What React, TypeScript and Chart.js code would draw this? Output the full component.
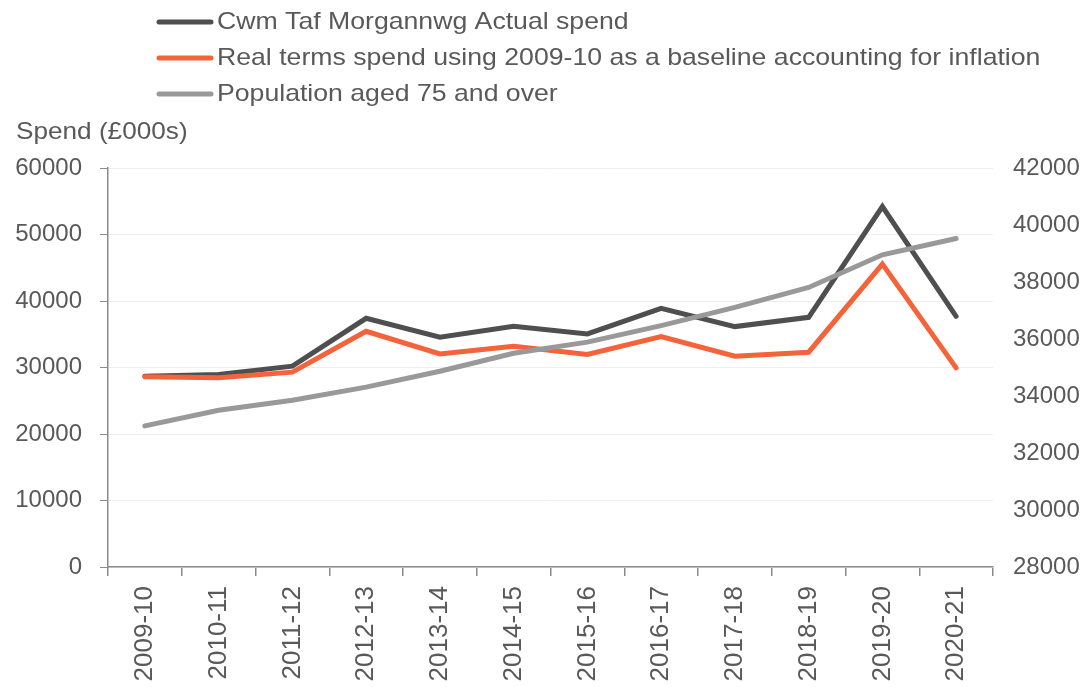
import React, { useEffect, useRef } from "react";
import { Chart, registerables } from "chart.js";

Chart.register(...registerables);

const categories = [
  "2009-10", "2010-11", "2011-12", "2012-13", "2013-14", "2014-15",
  "2015-16", "2016-17", "2017-18", "2018-19", "2019-20", "2020-21",
];
const actualSpend = [28700, 28950, 30200, 37400, 34550, 36200, 35050, 38900, 36150, 37550, 54200, 37700];
const realTermsSpend = [28600, 28450, 29300, 35450, 32050, 33200, 31950, 34650, 31700, 32300, 45550, 29950];
const population75 = [32950, 33500, 33850, 34310, 34870, 35500, 35890, 36470, 37110, 37810, 38955, 39525];

const seriesNames = [
  "Cwm Taf Morgannwg Actual spend",
  "Real terms spend using 2009-10 as a baseline accounting for inflation",
  "Population aged 75 and over",
];
const seriesColors = ["#4f4f4f", "#f4633a", "#999999"];
const leftAxisTitle = "Spend (£000s)";

const FONT = "'Liberation Sans', Arial, Helvetica, sans-serif";
const TEXT = "#595959";
const AXIS = "#8a8a8a";

const overlayPlugin = {
  id: "overlay",
  afterDraw(chart: any) {
    const ctx = chart.ctx;
    ctx.save();
    ctx.font = `24px ${FONT}`;
    ctx.fillStyle = TEXT;
    ctx.textBaseline = "middle";
    ctx.textAlign = "left";
    const rows = [22, 58, 94];
    seriesNames.forEach((name, i) => {
      const y = rows[i];
      ctx.strokeStyle = seriesColors[i];
      ctx.lineWidth = 5;
      ctx.lineCap = "round";
      ctx.beginPath();
      ctx.moveTo(159, y);
      ctx.lineTo(211, y);
      ctx.stroke();
      ctx.save();
      ctx.translate(217, y);
      ctx.scale(1.11, 1);
      ctx.fillText(name, 0, 0);
      ctx.restore();
    });
    ctx.save();
    ctx.translate(16, 132);
    ctx.scale(1.09, 1);
    ctx.fillText(leftAxisTitle, 0, 0);
    ctx.restore();
    ctx.restore();
  },
};

const plain = (v: any) => String(v);

export default function App() {
  const ref = useRef<HTMLCanvasElement>(null);
  useEffect(() => {
    document.body.style.margin = "0";
    const canvas = ref.current!;
    const chart = new Chart(canvas, {
      type: "line",
      data: {
        labels: categories,
        datasets: [
          {
            label: seriesNames[0],
            data: actualSpend,
            borderColor: seriesColors[0],
            backgroundColor: seriesColors[0],
            borderWidth: 5,
            pointRadius: 0,
            tension: 0,
            borderCapStyle: "round",
            borderJoinStyle: "miter",
            yAxisID: "y",
            order: 3,
          },
          {
            label: seriesNames[1],
            data: realTermsSpend,
            borderColor: seriesColors[1],
            backgroundColor: seriesColors[1],
            borderWidth: 5,
            pointRadius: 0,
            tension: 0,
            borderCapStyle: "round",
            borderJoinStyle: "miter",
            yAxisID: "y",
            order: 2,
          },
          {
            label: seriesNames[2],
            data: population75,
            borderColor: seriesColors[2],
            backgroundColor: seriesColors[2],
            borderWidth: 5,
            pointRadius: 0,
            tension: 0,
            borderCapStyle: "round",
            borderJoinStyle: "miter",
            yAxisID: "y1",
            order: 1,
          },
        ],
      },
      options: {
        animation: false,
        responsive: false,
        maintainAspectRatio: false,
        layout: { padding: { top: 168, left: 0, right: 0, bottom: 0 } },
        plugins: {
          legend: { display: false },
          tooltip: { enabled: false },
          title: { display: false },
        },
        scales: {
          x: {
            offset: true,
            grid: {
              offset: true,
              drawOnChartArea: false,
              tickLength: 9,
              tickColor: AXIS,
              lineWidth: 1.5,
            },
            border: { display: true, color: AXIS, width: 1.5 },
            ticks: {
              minRotation: 90,
              maxRotation: 90,
              autoSkip: false,
              padding: 10,
              color: TEXT,
              font: { family: FONT, size: 26 },
            },
            afterFit(scale: any) {
              scale.height = 120;
            },
          },
          y: {
            position: "left",
            min: 0,
            max: 60000,
            ticks: {
              stepSize: 10000,
              padding: 18,
              color: TEXT,
              font: { family: FONT, size: 24 },
              callback: plain,
            },
            grid: {
              color: "#eeeeee",
              lineWidth: 1,
              tickLength: 8,
              tickColor: AXIS,
            },
            border: { display: true, color: AXIS, width: 1.5 },
            afterFit(scale: any) {
              scale.width = 108;
            },
          },
          y1: {
            position: "right",
            min: 28000,
            max: 42000,
            ticks: {
              stepSize: 2000,
              padding: 20,
              color: TEXT,
              font: { family: FONT, size: 24 },
              callback: plain,
            },
            grid: { display: false, drawTicks: false, drawOnChartArea: false },
            border: { display: false },
            afterFit(scale: any) {
              scale.width = 91;
            },
          },
        },
      },
      plugins: [overlayPlugin],
    });
    return () => chart.destroy();
  }, []);
  return (
    <div style={{ width: 1084, height: 687 }}>
      <canvas ref={ref} width={1084} height={687} style={{ display: "block" }} />
    </div>
  );
}
